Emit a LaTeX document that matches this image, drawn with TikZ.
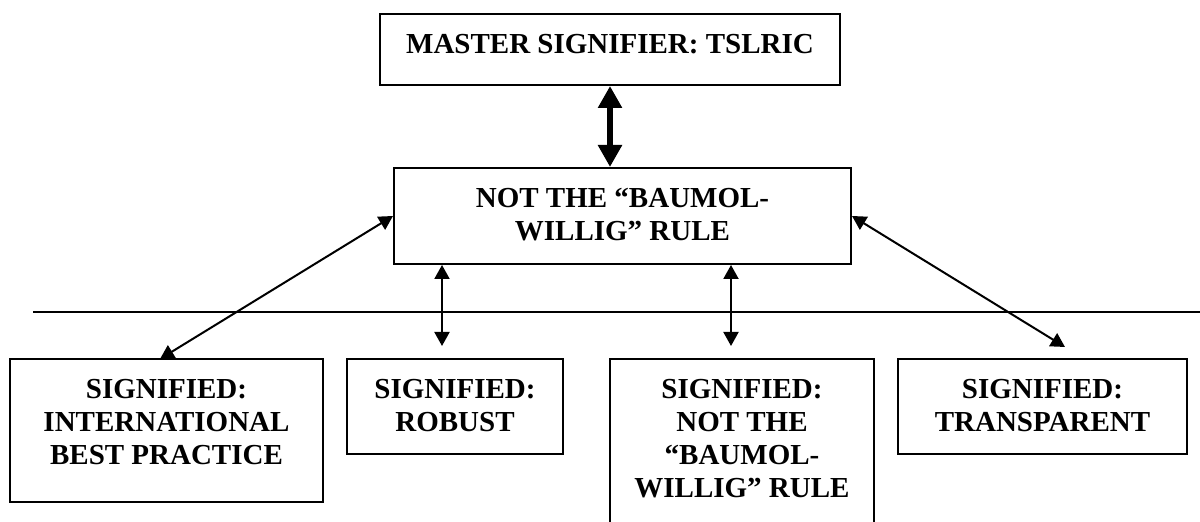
\documentclass[tikz,border=0pt]{standalone}
\usepackage{fontspec}
\setmainfont{Liberation Serif}
\usetikzlibrary{positioning,arrows.meta}

\begin{document}
\begin{tikzpicture}[x=0.5pt,y=-0.5pt,
  box/.style={draw,line width=1pt,inner sep=0pt},
  txt/.style={align=center,inner sep=0pt,font=\fontsize{14.5}{16.5}\selectfont\bfseries},
  link/.style={line width=1pt,{Triangle[length=7pt,width=7.5pt]}-{Triangle[length=7pt,width=7.5pt]}},
  bigarrow/.style={line width=3.3pt,{Triangle[length=11pt,width=11.5pt]}-{Triangle[length=11pt,width=11.5pt]}}]
\useasboundingbox (0,0) rectangle (1200,522);

% upper level
\node [box, minimum width=230pt, minimum height=35.5pt] (master) at (610,49.5) {};
\node [txt, below=10.5pt of master.north] (master-t) {MASTER SIGNIFIER: TSLRIC};

\node [box, minimum width=228.5pt, minimum height=48pt] (mid) at (622.5,216) {};
\node [txt, below=10.5pt of mid.north] (mid-t) {NOT THE “BAUMOL-\\WILLIG” RULE};

\draw [bigarrow] (master.south) -- (master.south |- mid.north);

% dividing line
\coordinate (rule-l) at (33,312);
\coordinate (rule-r) at (1200,312);
\draw [line width=0.8pt] (rule-l) -- (rule-r);

% signifieds
\node [box, minimum width=156.5pt, minimum height=71.5pt] (ibp) at (166.5,430.5) {};
\node [txt, below=10.5pt of ibp.north] (ibp-t) {SIGNIFIED:\\INTERNATIONAL\\BEST PRACTICE};

\node [box, minimum width=108pt, minimum height=47.5pt] (robust) at (455,406.5) {};
\node [txt, below=10.5pt of robust.north] (robust-t) {SIGNIFIED:\\ROBUST};

\node [box, minimum width=132pt, minimum height=93pt] (notbw) at (742,452) {};
\node [txt, below=10.5pt of notbw.north] (notbw-t) {SIGNIFIED:\\NOT THE\\“BAUMOL-\\WILLIG” RULE};

\node [box, minimum width=144.5pt, minimum height=47.5pt] (transp) at (1042.5,406.5) {};
\node [txt, below=10.5pt of transp.north] (transp-t) {SIGNIFIED:\\TRANSPARENT};

% links
\coordinate (ibp-in) at (160,359);
\coordinate (robust-in) at (442,346);
\coordinate (notbw-in) at (731,346);
\coordinate (transp-in) at (1065,347);

\draw [link] (ibp-in) -- (mid.west);
\draw [link] (robust-in |- mid.south) -- (robust-in);
\draw [link] (notbw-in |- mid.south) -- (notbw-in);
\draw [link] (mid.east) -- (transp-in);

\end{tikzpicture}
\end{document}
